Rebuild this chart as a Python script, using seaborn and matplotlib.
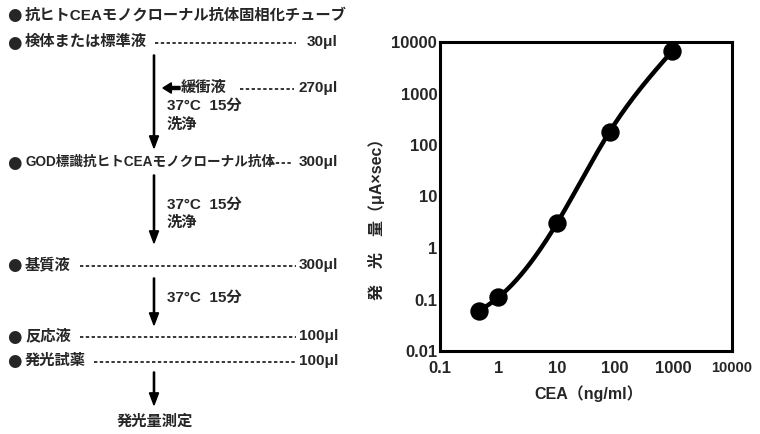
import numpy as np
import pandas as pd
import matplotlib
matplotlib.use("Agg")
import matplotlib.pyplot as plt
from matplotlib.lines import Line2D
import seaborn as sns

# ---- data ----
cea = [0.47, 1.0, 10.0, 80.0, 950.0]
signal = [0.06, 0.11, 3.0, 180.0, 6700.0]
x_ticks = [0.1, 1, 10, 100, 1000, 10000]
x_tick_labels = ["0.1", "1", "10", "100", "1000", "10000"]
y_ticks = [0.01, 0.1, 1, 10, 100, 1000, 10000]
y_tick_labels = ["0.01", "0.1", "1", "10", "100", "1000", "10000"]

steps = [
    ("抗ヒトCEAモノクローナル抗体固相化チューブ", "", 15),
    ("検体または標準液", "30μl", 42),
    ("GOD標識抗ヒトCEAモノクローナル抗体", "300μl", 162),
    ("基質液", "300μl", 265),
    ("反応液", "100μl", 336),
    ("発光試薬", "100μl", 361),
]
sub_notes = [
    ("37°C  15分", 106), ("洗浄", 125),
    ("37°C  15分", 205), ("洗浄", 223),
    ("37°C  15分", 298),
]

sns.set_style("white")
plt.rcParams["font.family"] = ["Liberation Sans", "Noto Sans CJK JP", "DejaVu Sans"]
plt.rcParams["font.weight"] = "bold"

W, H = 760, 434
fig = plt.figure(figsize=(7.6, 4.34), dpi=100)

def fx(x):
    return x / W

def fy(y):
    return 1 - y / H

fs = 11
# ---- flowchart ----
dash_ranges = {1: (155, 296), 2: (270, 291), 3: (80, 296), 4: (80, 296), 5: (94, 296)}
for i, (lab, vol, y) in enumerate(steps):
    fig.text(fx(14), fy(y + 0.5), "●", fontsize=12, va="center", ha="center",
             family=["DejaVu Sans"])
    fig.text(fx(25), fy(y), lab, fontsize=(9.8 if i == 2 else fs), va="center", ha="left",
             fontweight="bold")
    if vol:
        fig.text(fx(338), fy(y), vol, fontsize=fs, va="center", ha="right", fontweight="bold")
        x0, x1 = dash_ranges[i]
        fig.add_artist(Line2D([fx(x0), fx(x1)], [fy(y + 1), fy(y + 1)], color="black",
                              lw=1.1, linestyle=(0, (2.2, 1.6)), transform=fig.transFigure))

# buffer line
fig.text(fx(181), fy(88), "緩衝液", fontsize=fs, va="center", ha="left", fontweight="bold")
fig.text(fx(338), fy(88), "270μl", fontsize=fs, va="center", ha="right", fontweight="bold")
fig.add_artist(Line2D([fx(240), fx(294)], [fy(89), fy(89)], color="black",
                      lw=1.1, linestyle=(0, (2.2, 1.6)), transform=fig.transFigure))
fig.patches.append(matplotlib.patches.FancyArrow(fx(180), fy(88), fx(-17), 0, width=0.007,
                                                 head_width=0.024, head_length=0.011,
                                                 length_includes_head=True, color="black",
                                                 transform=fig.transFigure))

for txt, y in sub_notes:
    fig.text(fx(167), fy(y), txt, fontsize=fs, va="center", ha="left", fontweight="bold")

for (y0, y1) in [(55, 148), (175, 243), (278, 325), (372, 405)]:
    fig.patches.append(matplotlib.patches.FancyArrow(fx(154), fy(y0), 0, fy(y1) - fy(y0),
                                                     width=0.0016, head_width=0.012,
                                                     head_length=0.028, length_includes_head=True,
                                                     color="black", transform=fig.transFigure))

fig.text(fx(155), fy(422), "発光量測定", fontsize=fs, va="center", ha="center", fontweight="bold")

# ---- chart ----
ax = fig.add_axes([440 / W, 1 - 351 / H, 292 / W, 309 / H])
df = pd.DataFrame({"CEA": cea, "signal": signal})

# smooth curve: natural cubic spline in log-log space through the points
lx = np.log10(np.array(cea))
ly = np.log10(np.array(signal))
n = len(lx)
h = np.diff(lx)
A = np.zeros((n, n))
b = np.zeros(n)
A[0, 0] = 1
A[-1, -1] = 1
for i in range(1, n - 1):
    A[i, i - 1] = h[i - 1]
    A[i, i] = 2 * (h[i - 1] + h[i])
    A[i, i + 1] = h[i]
    b[i] = 3 * ((ly[i + 1] - ly[i]) / h[i] - (ly[i] - ly[i - 1]) / h[i - 1])
c = np.linalg.solve(A, b)
xs, ys = [], []
for i in range(n - 1):
    bb = (ly[i + 1] - ly[i]) / h[i] - h[i] * (2 * c[i] + c[i + 1]) / 3
    d = (c[i + 1] - c[i]) / (3 * h[i])
    t = np.linspace(0, h[i], 40)
    xs.append(lx[i] + t)
    ys.append(ly[i] + bb * t + c[i] * t ** 2 + d * t ** 3)
curve = pd.DataFrame({"CEA": 10 ** np.concatenate(xs), "signal": 10 ** np.concatenate(ys)})

sns.lineplot(data=curve, x="CEA", y="signal", ax=ax, color="black", lw=3.2, sort=False)
sns.scatterplot(data=df, x="CEA", y="signal", ax=ax, color="black", s=150, edgecolor="black", zorder=5)

ax.set_xscale("log")
ax.set_yscale("log")
ax.set_xlim(0.1, 10000)
ax.set_ylim(0.01, 10000)
ax.minorticks_off()
ax.set_xticks(x_ticks)
ax.set_xticklabels(x_tick_labels)
ax.set_yticks(y_ticks)
ax.set_yticklabels(y_tick_labels)
ax.tick_params(direction="in", length=6, width=1.5, labelsize=12)
ax.tick_params(axis="x", pad=7)
ax.tick_params(axis="y", pad=2)
for lab in ax.get_xticklabels() + ax.get_yticklabels():
    lab.set_fontweight("bold")
ax.get_xticklabels()[-1].set_fontsize(10.5)
for s in ax.spines.values():
    s.set_linewidth(2.2)
    s.set_color("black")

ax.set_xlabel("CEA（ng/ml）", fontsize=11.5, fontweight="bold")
ax.set_ylabel("発　光　量（μA×sec）", fontsize=11.5, fontweight="bold")
ax.xaxis.set_label_coords(0.51, -0.11)
ax.yaxis.set_label_coords(-0.19, 0.44)

fig.savefig("out.png", dpi=100)
